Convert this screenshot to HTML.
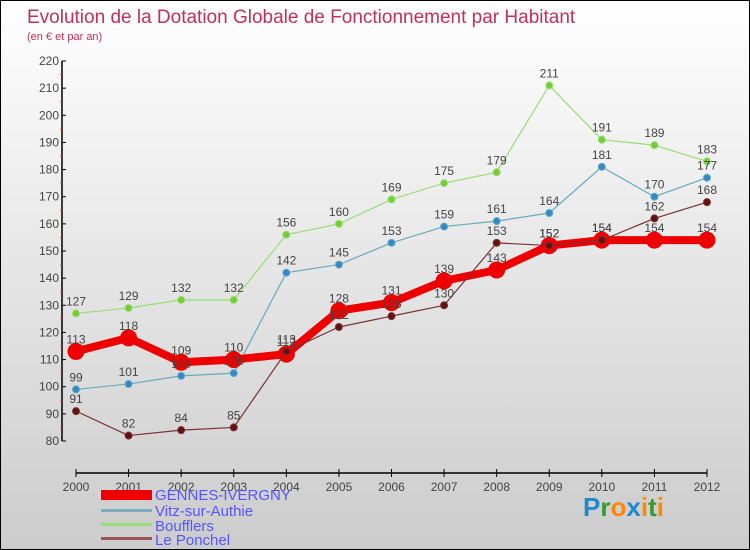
<!DOCTYPE html>
<html><head><meta charset="utf-8"><style>
body{margin:0}
#c{position:relative;width:748px;height:548px;border:1px solid #000;background:linear-gradient(#fff,#ccc);font-family:"Liberation Sans",sans-serif;overflow:hidden}
</style></head><body>
<div id="c">
<svg width="748" height="548" id="s" style="position:absolute;left:0;top:0">
<text x="26" y="22" font-size="19" fill="#c0305a">Evolution de la Dotation Globale de Fonctionnement par Habitant</text>
<text x="26" y="39" font-size="11" fill="#c0305a">(en € et par an)</text>
<g id="ax"></g><g id="ser"></g><g id="lab"></g>
<g font-size="15" fill="#5555ff">
<rect x="100" y="489" width="51" height="10" fill="#e00"/>
<text x="154" y="499">GENNES-IVERGNY</text>
<rect x="100" y="508" width="51" height="3" fill="#7ab"/>
<text x="154" y="515">Vitz-sur-Authie</text>
<rect x="100" y="522" width="51" height="3" fill="#9d7"/>
<text x="154" y="530">Boufflers</text>
<rect x="100" y="536" width="51" height="3" fill="#955"/>
<text x="154" y="544">Le Ponchel</text>
</g>
<text x="582" y="515" font-size="26" font-weight="bold"><tspan fill="#28c">P</tspan><tspan fill="#393">r</tspan><tspan fill="#f80">o</tspan><tspan fill="#28c">x</tspan><tspan fill="#f80">i</tspan><tspan fill="#393">t</tspan><tspan fill="#f80">i</tspan></text>
</svg>
</div>
<script>
const years=[2000,2001,2002,2003,2004,2005,2006,2007,2008,2009,2010,2011,2012];
const gennes=[113,118,109,110,112,128,131,139,143,152,154,154,154];
const vitz=[99,101,104,105,142,145,153,159,161,164,181,170,177];
const boufflers=[127,129,132,132,156,160,169,175,179,211,191,189,183];
const ponchel=[91,82,84,85,113,122,126,130,153,152,154,162,168];
const yTicks=[80,90,100,110,120,130,140,150,160,170,180,190,200,210,220];
const NS="http://www.w3.org/2000/svg";
const xs=i=>75+i*(706-75)/(years.length-1);
const ys=v=>440-(v-80)*(380/140);
function mk(t,a,p){const e=document.createElementNS(NS,t);for(const k in a)e.setAttribute(k,a[k]);p.appendChild(e);return e;}
const ax=document.getElementById('ax'),ser=document.getElementById('ser'),lab=document.getElementById('lab');
let e=mk('line',{x1:61,y1:ys(220),x2:61,y2:ys(80),stroke:'#000','stroke-width':1.5},ax);


e=mk('line',{x1:75,y1:472,x2:706,y2:472,stroke:'#000','stroke-width':1.5},ax);


yTicks.forEach(v=>{
 mk('line',{x1:61,y1:ys(v),x2:65,y2:ys(v),stroke:'#000'},ax);
 if(v<220)mk('line',{x1:59,y1:ys(v+5),x2:61,y2:ys(v+5),stroke:'#f44'},ax);
 const t=mk('text',{x:58,y:ys(v)+4,'font-size':12,fill:'#444','text-anchor':'end'},ax);t.textContent=v;
 
 
});
years.forEach((y,i)=>{
 mk('line',{x1:xs(i),y1:468,x2:xs(i),y2:476,stroke:'#000'},ax);
 const t=mk('text',{x:xs(i),y:490,'font-size':12,fill:'#444','text-anchor':'middle'},ax);t.textContent=y;
 
 
});
function series(d,col,w,r,name,dot){
 const l=mk('polyline',{points:d.map((v,i)=>xs(i)+','+ys(v)).join(' '),fill:'none',stroke:col,'stroke-width':w,'stroke-linejoin':'round'},ser);
 
 
 d.forEach((v,i)=>{
  const c=mk('circle',{cx:xs(i),cy:ys(v),r:r,fill:dot,stroke:col,'stroke-width':1},ser);
  
  
  const t=mk('text',{x:xs(i),y:ys(v)-8,'font-size':12,fill:'#444','text-anchor':'middle'},lab);t.textContent=v;
  
  
 });
}
series(boufflers,'#9d7',1.2,3.5,'boufflers','#7c3');
series(vitz,'#6ab',1.2,3.5,'vitz','#38c');
series(gennes,'#e00',8,8,'gennes','#e00');
series(ponchel,'#733',1.2,3.5,'ponchel','#611');
</script>
</body></html>
